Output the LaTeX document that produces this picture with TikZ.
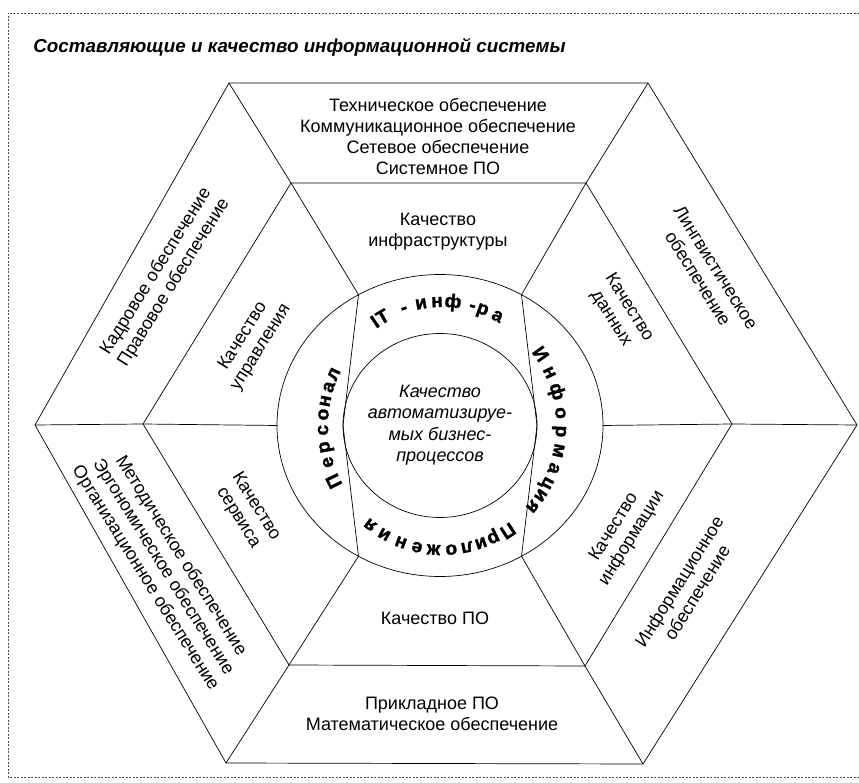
\documentclass[tikz,border=0pt]{standalone}
\usepackage{fontspec}
\setmainfont{Liberation Sans}
\newfontfamily\myringfam[UprightFont=* Bold,FakeBold=1.5]{Liberation Sans}
\begin{document}
\begin{tikzpicture}[x=1pt,y=1pt,line width=0.7pt,
  lbl/.style={align=center,font=\fontsize{18}{21}\selectfont,inner sep=0pt},
  ctr/.style={align=center,font=\itshape\fontsize{18}{21.5}\selectfont,inner sep=0pt},
  frame/.style={draw=black!70,line width=0.6pt,dash pattern=on 2pt off 1.5pt},
  ringl/.style={font=\myringfam\fontsize{19}{19}\selectfont,inner sep=0pt,anchor=base}]
\useasboundingbox (0,0) rectangle (859,782);
% frame
\draw[frame] (859,769) -- (8,769) -- (8,5) -- (859,5);
% title
\node[anchor=west,inner sep=0pt,font=\bfseries\itshape\fontsize{18.8}{20}\selectfont] (title) at (33,735) {Составляющие и качество информационной системы};
% outer hexagon
\coordinate (OTL) at (229,699);
\coordinate (OTR) at (648,699);
\coordinate (OR)  at (857,357);
\coordinate (OBR) at (643,18);
\coordinate (OBL) at (226,19);
\coordinate (OL)  at (35,357);
% inner hexagon
\coordinate (ITL) at (291,599);
\coordinate (ITR) at (586,599);
\coordinate (IR)  at (732,358);
\coordinate (IBR) at (585,116);
\coordinate (IBL) at (289,117);
\coordinate (IL)  at (143,358);
\draw (OTL)--(OTR)--(OR)--(OBR)--(OBL)--(OL)--cycle;
\draw (ITL)--(ITR)--(IR)--(IBR)--(IBL)--(IL)--cycle;
\foreach \a in {TL,TR,R,BR,BL,L} \draw (O\a)--(I\a);
% circles
\coordinate (C) at (440,356.5);
\draw (C) ellipse[x radius=163pt,y radius=151pt];
\draw (C) ellipse[x radius=97pt,y radius=92pt];
\foreach \t in {0,60,120,180,240,300}{
  \path (C) ++(\t:163pt and 151pt) coordinate (E\t);
  \path (C) ++(\t:97pt and 92pt) coordinate (N\t);
}
\draw (ITL)--(E120); \draw (ITR)--(E60); \draw (IL)--(E180);
\draw (IR)--(E0); \draw (IBL)--(E240); \draw (IBR)--(E300);
\draw (E120)--(N180)--(E240);
\draw (E60)--(N0)--(E300);
% ring texts, letter by letter
\coordinate (TC) at (442,356);
\foreach \ang/\ch [count=\i] in {123.9/I,119.5/T,108.6/-,100.1/и,92.4/н,84.7/ф,75.1/-,70.0/р,62.3/а}
  \path (TC) ++(\ang:114pt and 119pt) node[ringl,rotate=\ang-90] (top\i) {\ch};
\foreach \ang/\ch [count=\i] in {35/И,25.5/н,16/ф,6/о,-2.5/р,-11.5/м,-20/а,-27.5/ц,-34/и,-40.5/я}
  \path (TC) ++(\ang:114pt and 119pt) node[ringl,rotate=\ang-90] (rgt\i) {\ch};
\foreach \ang/\ch [count=\i] in {-56.8/П,-64.4/р,-70.9/и,-77.9/л,-85.5/о,-94.1/ж,-102.1/е,-110.2/н,-119/и,-127.1/я}
  \path (TC) ++(\ang:114pt and 119pt) node[ringl,rotate=\ang-90] (bot\i) {\ch};
\foreach \ang/\ch [count=\i] in {206.1/П,197/е,189.9/р,181.9/с,174.7/о,168.4/н,161.7/а,155.3/л}
  \path (TC) ++(\ang:114pt and 119pt) node[ringl,rotate=\ang-90] (lft\i) {\ch};
% centre
\node[ctr] (centre) at (440,357) {Качество\\автоматизируе-\\мых бизнес-\\процессов};
% inner sector labels
\node[lbl] (qinf) at (438,550) {Качество\\инфраструктуры};
\node[lbl,rotate=-58] (qdat) at (620,469) {Качество\\данных};
\node[lbl,rotate=58] (qinfo) at (623,249) {Качество\\информации};
\node[lbl] (qpo) at (435,164) {Качество ПО};
\node[lbl,rotate=-58] (qserv) at (247,270) {Качество\\сервиса};
\node[lbl,rotate=58] (qupr) at (252,440) {Качество\\управления};
% outer sector labels
\node[lbl] (tech) at (438,646) {Техническое обеспечение\\Коммуникационное обеспечение\\Сетевое обеспечение\\Системное ПО};
\node[lbl,rotate=-58] (ling) at (707,509) {Лингвистическое\\обеспечение};
\node[lbl,rotate=58] (infob) at (688,195) {Информационное\\обеспечение};
\node[lbl] (prikl) at (432,68) {Прикладное ПО\\Математическое обеспечение};
\node[lbl,rotate=-58] (metod) at (163,215) {Методическое обеспечение\\Эргономическое обеспечение\\Организационное обеспечение};
\node[lbl,rotate=58] (kadr) at (165,505) {Кадровое обеспечение\\Правовое обеспечение};
\end{tikzpicture}
\end{document}
